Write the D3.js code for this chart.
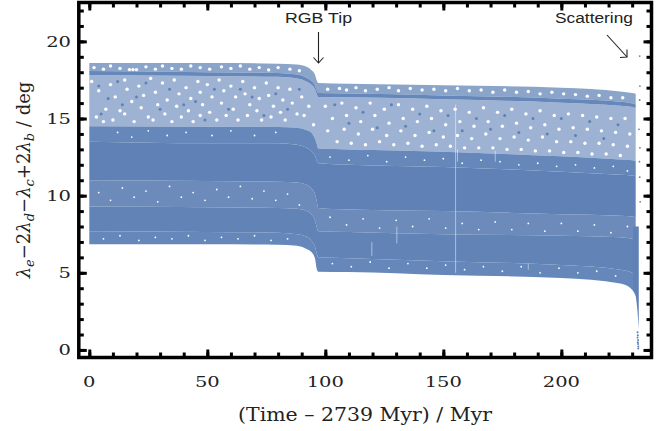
<!DOCTYPE html>
<html>
<head>
<meta charset="utf-8">
<script src="https://cdn.jsdelivr.net/npm/d3@7"></script>
<style>
  html, body { margin: 0; padding: 0; background: #fff; }
  svg { display: block; }
</style>
</head>
<body>
<div id="chart"></div>
<script>
// Values. The original has tens of thousands of points,
// too many to read one by one, so the bands are drawn from their outlines and
// the specks are hand-read samples of what is visible.
const times =        [0, 50, 80, 88, 92, 94, 95.6, 96.3, 97, 110, 150, 200, 225, 230, 231.5]
const edgeTop =      [18.6, 18.6, 18.55, 18.5, 18.35, 18.15, 17.85, 17.5, 17.3, 17.25, 17.15, 17, 16.75, 16.65, 16.6]
const lineHigh =     [18.08, 18, 17.95, 17.85, 17.65, 17.45, 17.15, 16.85, 16.65, 16.62, 16.5, 16.28, 16.08, 15.98, 15.92]
const lineLow =      [17.82, 17.75, 17.7, 17.6, 17.4, 17.2, 16.9, 16.6, 16.4, 16.38, 16.25, 16.02, 15.82, 15.74, 15.68]
const denseTop =     [14.5, 14.47, 14.45, 14.4, 14.25, 14.1, 13.7, 13.4, 13.05, 13, 12.85, 12.55, 12.35, 12.3, 12.25]
const speckleLow =   [13.5, 13.4, 13.4, 13.3, 13.1, 12.9, 12.6, 12.3, 12.1, 12, 11.85, 11.55, 11.35, 11.3, 11.25]
const paleTop =      [11, 10.95, 10.9, 10.85, 10.7, 10.5, 10.1, 9.7, 9.2, 9.1, 9, 8.8, 8.7, 8.65, 8.6]
const paleLow =      [9.3, 9.25, 9.2, 9.15, 9, 8.8, 8.4, 8, 7.7, 7.65, 7.5, 7.4, 7.3, 7.2, 7.1]
const rimTop =       [7.7, 7.65, 7.6, 7.5, 7.35, 7.1, 6.7, 6.3, 6, 5.95, 5.75, 5.5, 5.2, 5, 4.8]
const edgeBottom =   [6.85, 6.85, 6.82, 6.75, 6.55, 6.37, 5.95, 5.3, 5.07, 5.05, 4.86, 4.67, 4.3, 3.9, 3.5]

const tailTimes =    [230.5, 231.5, 232.2, 232.8]
const tailTop =      [8, 8, 8, 8]
const tailBottom =   [3.9, 3.5, 2.6, 1.35]

const tailPoints = [[232.3, 1.15], [232.4, 0.95], [232.3, 0.8], [232.5, 0.65], [232.4, 0.5], [232.5, 0.38], [232.6, 0.22], [232.6, 0.1]]
const scatterPoints = [[233.2, 19.05], [233.3, 17.1], [233.2, 16.2], [232.9, 14.3], [233.3, 13.1], [233.1, 12.2], [233.2, 11.2], [233.4, 9.6]]

const blankStreaks = [[155.2, 5, 15.9], [119.7, 6.1, 7], [130.3, 6.9, 8], [172, 12.2, 12.9], [156, 12.2, 13], [186, 5.2, 5.6]]

const sparseGaps = [
  [2,18.3],[6,18.2],[9,18.4],[13,18.25],[17,18.17],[18.5,18.17],[20,18.17],[24,18.35],[28,18.2],[31,18.4],[35,18.25],[39,18.2],[43,18.4],[47,18.3],[51,18.2],[56,18.35],[60,18.25],[64,18.4],[68,18.2],[72,18.3],[76,18.15],[80,18.3],[85,18.2],[89,18.1],
  [1,17.4],[4,16.8],[7,15.6],[3,15.1],[6,14.8],[9,17.2],[11,16.4],[13,15.5],[10,14.9],[15,17.5],[16,16.9],[18,16.1],[15,15.3],[19,14.8],[21,17.1],[23,16.5],[22,15.7],[25,15.1],[26,17.6],[28,16.7],[29,15.9],[27,14.9],[31,17.3],[33,16.2],[32,15.3],[35,14.8],
  [36,17.5],[38,16.6],[37,15.8],[39,15.1],[41,17],[43,16.3],[42,15.5],[44,14.8],[46,17.4],[47,16.7],[48,15.9],[47,15.2],[50,17.2],[52,16.4],[51,15.4],[54,14.9],[55,17.5],[57,16.8],[56,16],[58,15.2],[60,17.1],[62,16.4],[61,15.6],[63,14.9],
  [65,17.4],[66,16.6],[68,15.9],[67,15.2],[70,17],[72,16.3],[71,15.5],[73,14.9],[75,17.3],[76,16.5],[78,15.8],[77,15.1],[80,17],[82,16.2],[81,15.4],[83,14.9],[85,16.9],[86,16],[88,15.3],[90,16.4],[91,15.2],[93,15.8],[95,14.6],
  [101,16.9],[106,16.95],[109,16.85],[113,17],[117,16.8],[122,16.9],[127,17],[131,16.8],[136,16.95],[141,16.85],[146,16.9],[151,16.8],[156,16.95],[161,16.8],[166,16.85],[171,16.7],[176,16.85],[181,16.7],[186,16.75],[191,16.6],[196,16.7],[201,16.6],[206,16.55],[211,16.45],[216,16.5],[221,16.35],[226,16.35],
  [100,15.8],[103,15],[101,14.2],[105,13.5],[107,16],[109,15.2],[108,14.3],[111,13.4],[113,15.7],[115,14.8],[114,14],[117,13.3],[119,16],[121,15.2],[120,14.3],[123,13.5],[125,15.6],[127,14.7],[126,13.9],[129,13.3],[131,15.9],[133,15],[132,14.2],[135,13.4],
  [137,15.6],[139,14.8],[138,13.9],[141,13.2],[143,15.8],[145,15],[144,14.1],[147,13.3],[149,15.5],[151,14.6],[150,13.8],[153,13.2],[155,15.6],[157,14.8],[156,13.9],[159,13.1],[161,15.4],[163,14.5],[162,13.7],[165,13.1],[167,15.7],[169,14.8],[168,14],[171,13.1],
  [173,15.4],[175,14.5],[174,13.7],[177,13],[179,15.6],[181,14.7],[180,13.8],[183,13],[185,15.3],[187,14.4],[186,13.6],[189,12.9],[191,15.5],[193,14.6],[192,13.8],[195,12.9],[197,15.2],[199,14.3],[198,13.5],[201,12.8],[203,15.3],[205,14.4],[204,13.5],[207,12.8],
  [209,15.2],[211,14.3],[210,13.4],[213,12.7],[215,15.1],[217,14.2],[216,13.4],[219,12.7],[221,15],[223,14.1],[222,13.3],[225,12.6],[227,15],[229,14],[228,13.2]
]

const sparseDots = [
  [4,17.1],[8,16.3],[12,17.4],[5,15.3],[14,15.9],[20,16.4],[24,17.3],[30,15.6],[34,16.9],[40,15.9],[45,16.1],[49,14.9],[53,16.9],[59,15.6],[64,16.9],[69,16.4],[74,15.2],[79,16.6],[84,15.6],[89,16.9],
  [104,15.9],[110,14.7],[116,15.4],[122,14.4],[128,15.9],[134,14.5],[140,15.3],[146,14.2],[152,15.2],[158,14.2],[164,15],[170,14.3],[176,15.2],[182,14.1],[188,15],[194,14],[200,15],[206,13.9],[212,14.8],[218,13.7],[224,14.6]
]

const denseGaps = [
  [12,14.1],[18,13.8],[25,14.2],[33,13.9],[41,14.1],[52,13.9],[60,14.2],[70,13.9],[79,14.1],
  [4,10.2],[9,9.7],[14,10.5],[19,9.9],[24,10.3],[29,9.6],[34,10.6],[39,9.9],[44,10.2],[49,9.7],[54,10.4],[59,9.9],[64,10.6],[69,9.8],[74,10.3],[79,9.7],[84,10.1],[89,9.4],
  [6,7.2],[13,7.4],[21,7.1],[28,7.3],[35,7.2],[42,7.4],[49,7.1],[56,7.3],[63,7.2],[70,7.4],[77,7.1],[84,7.2],
  [102,12.5],[110,12.3],[118,12.6],[126,12.2],[134,12.5],[142,12.3],[150,12.4],[158,12.1],[166,12.3],[174,12.2],[182,12],[190,12.1],[198,11.9],[206,12],[214,11.8],[222,11.9],[228,11.6],
  [102,8.6],[109,8.1],[116,8.5],[123,7.9],[130,8.4],[137,8],[144,8.5],[151,7.9],[158,8.2],[165,7.8],[172,8.3],[179,7.8],[186,8.2],[193,7.7],[200,8.2],[207,7.7],[214,8.1],[221,7.6],[228,8],
  [103,5.6],[111,5.4],[119,5.7],[127,5.3],[135,5.6],[143,5.3],[151,5.5],[159,5.2],[167,5.4],[175,5.1],[183,5.4],[191,5],[199,5.3],[207,5],[215,5.1],[223,4.8]
]

const xTicks = [0, 50, 100, 150, 200]
const yTicks = [0, 5, 10, 15, 20]
const xMinor = d3.range(0, 231, 10)
const yMinor = d3.range(0, 23, 1)

/*----------------------------------------------------------------------------*/

const width = 661
const height = 431
const blue = '#5e81b5'

const x = d3.scaleLinear().domain([-4.45, 238.2]).range([78.8, 651.5])
const y = d3.scaleLinear().domain([-0.49, 22.52]).range([357.5, 2.5])

const svg = d3.select('#chart').append('svg')
  .attr('width', width)
  .attr('height', height)

const defs = svg.append('defs')
defs.append('filter').attr('id', 'soft')
  .append('feGaussianBlur').attr('stdDeviation', 0.35)

const plot = svg.append('g').attr('filter', 'url(#soft)')

const band = d3.area()
  .x(d => x(d.t))
  .y0(d => y(d.low))
  .y1(d => y(d.high))
  .curve(d3.curveMonotoneX)

const layers = [
  [edgeTop, lineHigh, 0.72],
  [lineHigh, lineLow, 0.95],
  [lineLow, denseTop, 0.6],
  [denseTop, speckleLow, 0.95],
  [speckleLow, paleTop, 1],
  [paleTop, paleLow, 0.92],
  [paleLow, rimTop, 0.98],
  [rimTop, edgeBottom, 0.95],
]

layers.forEach(([high, low, opacity]) => {
  plot.append('path')
    .attr('d', band(times.map((t, i) => ({ t, high: high[i], low: low[i] }))))
    .attr('fill', blue)
    .attr('fill-opacity', opacity)
})

plot.append('path')
  .attr('d', band(tailTimes.map((t, i) => ({ t, high: tailTop[i], low: tailBottom[i] }))))
  .attr('fill', blue)

const dots = (data, r, fill) => {
  plot.append('g').selectAll('circle')
    .data(data)
    .enter()
    .append('circle')
    .attr('cx', d => x(d[0]))
    .attr('cy', d => y(d[1]))
    .attr('r', r)
    .attr('fill', fill)
}

dots(sparseGaps, 1.7, '#fff')
dots(denseGaps, 0.9, '#fff')
dots(sparseDots, 1.5, blue)
dots(tailPoints, 1, blue)
dots(scatterPoints, 0.9, blue)

plot.append('g').selectAll('line')
  .data(blankStreaks)
  .enter()
  .append('line')
  .attr('x1', d => x(d[0]))
  .attr('x2', d => x(d[0]))
  .attr('y1', d => y(d[1]))
  .attr('y2', d => y(d[2]))
  .attr('stroke', '#fff')
  .attr('stroke-opacity', 0.6)
  .attr('stroke-width', 0.8)

// Frame and inward ticks on all four sides
const frame = svg.append('g')

frame.append('rect')
  .attr('x', x.range()[0])
  .attr('y', y.range()[1])
  .attr('width', x.range()[1] - x.range()[0])
  .attr('height', y.range()[0] - y.range()[1])
  .attr('fill', 'none')
  .attr('stroke', '#000')
  .attr('stroke-width', 3.5)

const styleAxis = g => {
  g.select('.domain').remove()
  g.selectAll('.tick line').attr('stroke', '#000').attr('stroke-width', 3)
}

const edges = [
  [d3.axisBottom, 0, y.range()[0], x, xMinor, -5],
  [d3.axisTop, 0, y.range()[1], x, xMinor, 5],
  [d3.axisLeft, x.range()[0], 0, y, yMinor, 5],
  [d3.axisRight, x.range()[1], 0, y, yMinor, -5],
]

edges.forEach(([axis, dx, dy, scale, minor, dir]) => {
  frame.append('g')
    .attr('transform', `translate(${dx},${dy})`)
    .call(axis(scale).tickValues(minor).tickSize(dir > 0 ? -5 : -5).tickFormat(''))
    .call(styleAxis)
  frame.append('g')
    .attr('transform', `translate(${dx},${dy})`)
    .call(axis(scale).tickValues(scale === x ? xTicks : yTicks).tickSize(-8).tickFormat(''))
    .call(styleAxis)
})

const labelStyle = { family: 'DejaVu Serif', size: 14.5 }

svg.append('g').selectAll('text')
  .data(xTicks)
  .enter()
  .append('text')
  .attr('x', d => x(d))
  .attr('y', 387)
  .attr('text-anchor', 'middle')
  .attr('font-family', labelStyle.family)
  .attr('font-size', labelStyle.size)
  .attr('fill', '#222')
  .attr('textLength', d => String(d).length * 12.4)
  .attr('lengthAdjust', 'spacingAndGlyphs')
  .text(d => d)

svg.append('g').selectAll('text')
  .data(yTicks)
  .enter()
  .append('text')
  .attr('x', 71)
  .attr('y', d => y(d) + 5.5)
  .attr('text-anchor', 'end')
  .attr('font-family', labelStyle.family)
  .attr('font-size', labelStyle.size)
  .attr('fill', '#222')
  .attr('textLength', d => String(d).length * 12.4)
  .attr('lengthAdjust', 'spacingAndGlyphs')
  .text(d => d)

svg.append('text')
  .attr('x', 365)
  .attr('y', 421)
  .attr('text-anchor', 'middle')
  .attr('font-family', 'DejaVu Serif')
  .attr('font-size', 18)
  .attr('fill', '#222')
  .attr('textLength', 254)
  .attr('lengthAdjust', 'spacingAndGlyphs')
  .text('(Time \u2013 2739 Myr) / Myr')

const yTitle = svg.append('text')
  .attr('transform', 'translate(30,180) rotate(-90)')
  .attr('text-anchor', 'middle')
  .attr('font-family', 'DejaVu Serif')
  .attr('font-size', 18)
  .attr('fill', '#222')

const yTitleParts = [
  ['\u03bb', 'e', '\u22122'],
  ['\u03bb', 'd', '\u2212'],
  ['\u03bb', 'c', '+2'],
  ['\u03bb', 'b', ' / deg'],
]

yTitleParts.forEach(([letter, sub, rest]) => {
  yTitle.append('tspan').attr('font-style', 'italic').text(letter)
  yTitle.append('tspan').attr('font-style', 'italic').attr('font-size', 13).attr('dy', 4).text(sub)
  yTitle.append('tspan').attr('dy', -4).text(rest)
})

// Annotations
const notes = svg.append('g')
  .attr('font-family', 'Liberation Sans')
  .attr('font-size', 15.5)
  .attr('fill', '#222')

notes.append('text').attr('x', 285).attr('y', 23)
  .attr('textLength', 67).attr('lengthAdjust', 'spacingAndGlyphs').text('RGB Tip')
notes.append('text').attr('x', 555).attr('y', 23)
  .attr('textLength', 78).attr('lengthAdjust', 'spacingAndGlyphs').text('Scattering')

const arrowLine = d3.line()
const arrowParts = [
  [[318.5, 32], [318.5, 63]],
  [[313.5, 57.5], [318.5, 63], [323.5, 57.5]],
  [[607, 35], [627, 57]],
  [[620, 57.5], [627, 57], [627, 49.5]],
]

notes.selectAll('path')
  .data(arrowParts)
  .enter()
  .append('path')
  .attr('d', arrowLine)
  .attr('fill', 'none')
  .attr('stroke', '#222')
  .attr('stroke-width', 1.1)
</script>
</body>
</html>
